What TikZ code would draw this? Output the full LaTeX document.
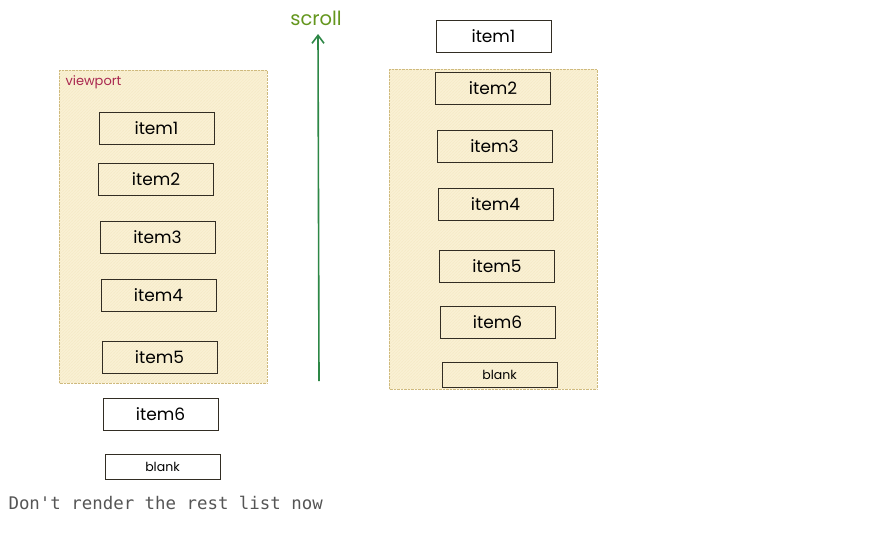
\documentclass[tikz,border=0pt]{standalone}
\usepackage{fontspec}
\setmainfont{Poppins}
\newfontfamily\codefont{DejaVu Sans Mono}
\usetikzlibrary{patterns,arrows.meta}
\definecolor{vpfill}{RGB}{250,242,215}
\definecolor{vphatch}{RGB}{230,205,140}
\definecolor{vpborder}{RGB}{205,185,125}
\definecolor{itemline}{RGB}{50,45,35}
\definecolor{arrowgreen}{RGB}{45,135,70}
\definecolor{scrollgreen}{RGB}{100,150,30}
\definecolor{vptext}{RGB}{170,40,80}
\definecolor{codegray}{RGB}{85,85,85}
\tikzset{
  viewportbox/.style={draw=vpborder, densely dotted, fill=vpfill, postaction={pattern=north east lines, pattern color=vphatch}},
  itembox/.style={draw=itemline, line width=0.9pt, minimum width=115pt, minimum height=32pt, inner sep=0pt, font=\fontsize{17}{19}\selectfont},
  blankbox/.style={draw=itemline, line width=0.9pt, minimum width=115pt, minimum height=25pt, inner sep=0pt, font=\fontsize{12.5}{14}\selectfont},
  whitebox/.style={fill=white}
}
\begin{document}
\begin{tikzpicture}[x=1pt,y=-1pt]
\useasboundingbox (0,0) rectangle (875,539);
% left viewport
\draw[viewportbox] (59,70) rectangle (267,383);
\node[anchor=west, text=vptext, font=\fontsize{13}{15}\selectfont] (vpl) at (62,82) {viewport};
\node[itembox] (l1) at (156.5,128) {item1};
\node[itembox] (l2) at (156,179.5) {item2};
\node[itembox] (l3) at (157.5,237) {item3};
\node[itembox] (l4) at (158.5,295) {item4};
\node[itembox] (l5) at (159.5,357) {item5};
\node[itembox,whitebox] (l6) at (160.5,414) {item6};
\node[blankbox,whitebox] (lb) at (162.5,466.5) {blank};
\node[anchor=west, text=codegray, font=\codefont\fontsize{17.4}{20}\selectfont] (note) at (5,503) {Don't render the rest list now};
% arrow
\coordinate (abot) at (319,381);
\node[text=scrollgreen, font=\fontsize{19.5}{21}\selectfont] (scroll) at (316,18) {scroll};
\coordinate (atop) at (318,34);
\draw[arrowgreen, line width=1.6pt, -{Straight Barb[length=8pt,width=12pt]}] (abot) -- (atop);
% right viewport
\draw[viewportbox] (389,69) rectangle (597,389);
\node[itembox,whitebox] (r1) at (493.5,36) {item1};
\node[itembox] (r2) at (493,88) {item2};
\node[itembox] (r3) at (494.5,146) {item3};
\node[itembox] (r4) at (495.5,204) {item4};
\node[itembox] (r5) at (497,266) {item5};
\node[itembox] (r6) at (497.5,322) {item6};
\node[blankbox] (rb) at (499.5,374.5) {blank};
\end{tikzpicture}
\end{document}
